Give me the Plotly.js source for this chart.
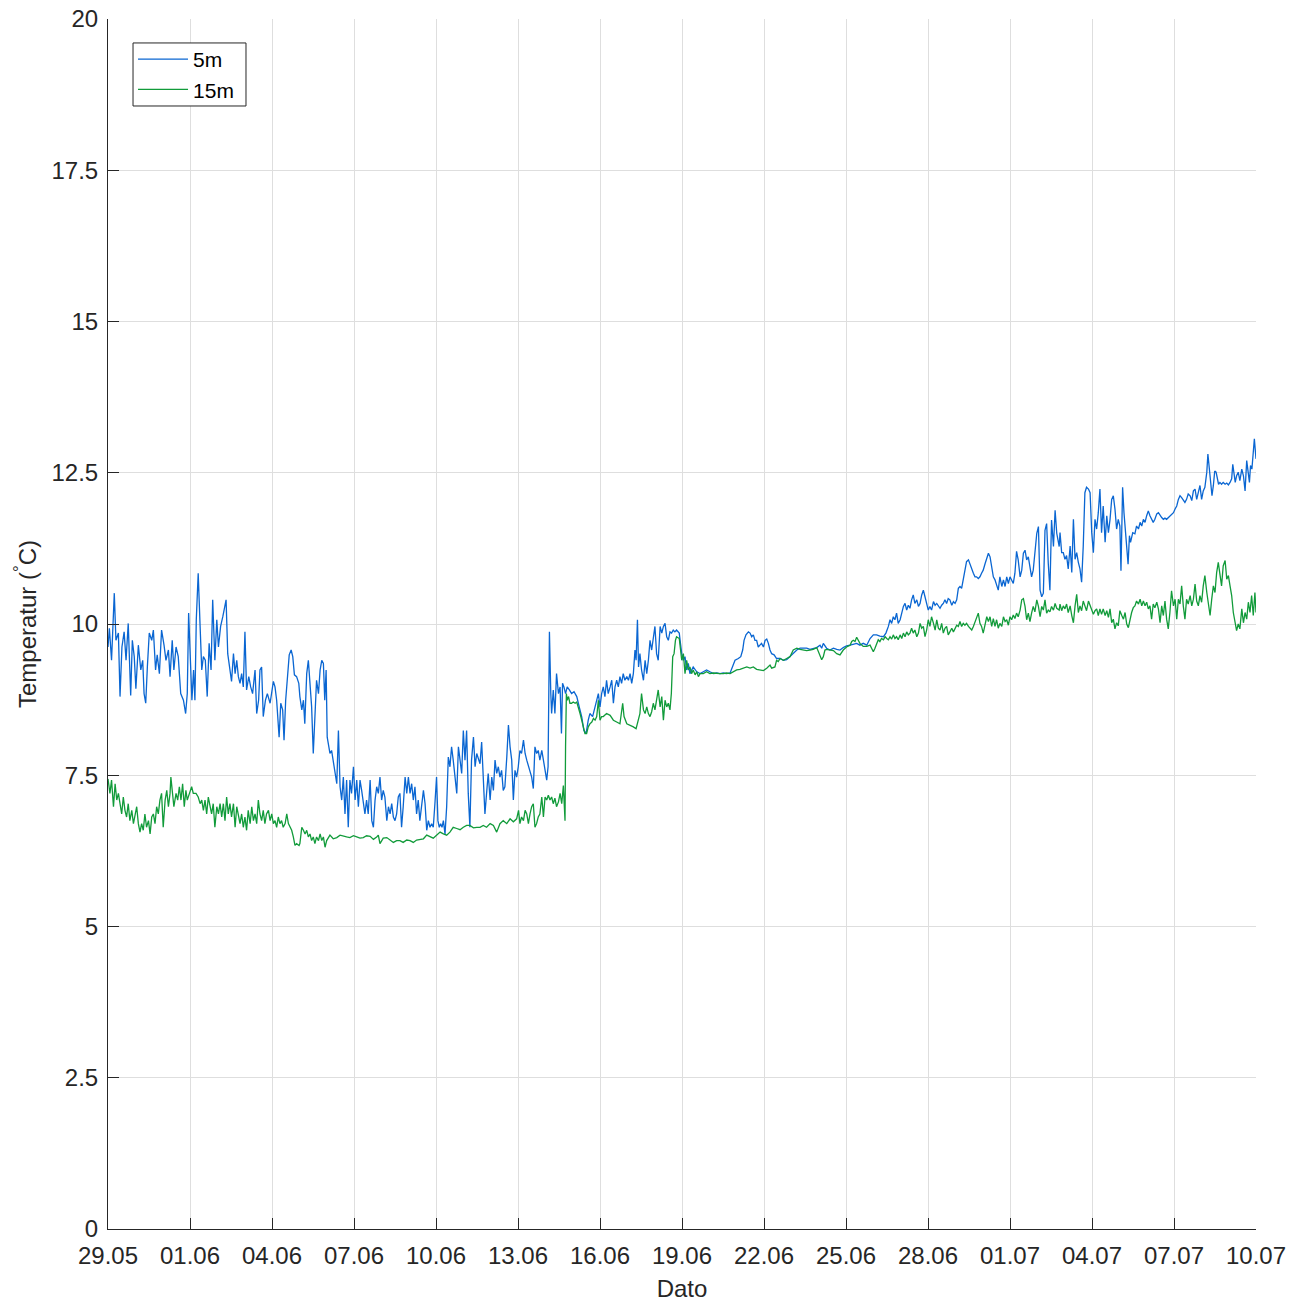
<!DOCTYPE html>
<html>
<head>
<meta charset="utf-8">
<script src="https://cdn.plot.ly/plotly-3.0.1.min.js"></script>
<style>html,body{margin:0;padding:0;background:#fff}#chart{width:1290px;height:1302px}</style>
</head>
<body>
<div id="chart"></div>
<script>
// Time in days since 29.05 00:00
const days5m = [
0.00,0.05,0.13,0.23,0.29,0.38,0.44,0.51,0.59,0.66,
0.74,0.83,0.89,0.96,1.02,1.11,1.20,1.27,1.32,1.38,
1.44,1.51,1.60,1.66,1.74,1.80,1.88,1.96,2.05,2.12,
2.21,2.27,2.35,2.41,2.49,2.57,2.66,2.76,2.84,2.90,
2.95,3.00,3.07,3.13,3.18,3.23,3.30,3.37,3.43,3.49,
3.56,3.63,3.70,3.77,3.83,3.91,3.98,4.04,4.12,4.20,
4.26,4.32,4.38,4.46,4.52,4.59,4.65,4.71,4.77,4.83,
4.89,4.95,5.01,5.07,5.15,5.22,5.29,5.38,5.44,5.51,
5.56,5.62,5.68,5.76,5.83,5.93,5.99,6.05,6.11,6.17,
6.26,6.32,6.39,6.44,6.50,6.56,6.63,6.70,6.76,6.82,
6.90,6.98,
7.02,7.09,7.15,7.20,7.27,7.33,7.39,7.45,7.51,7.57,
7.63,7.70,7.76,7.82,7.88,7.93,7.98,8.02,8.07,8.12,
8.18,8.24,8.30,8.37,8.43,8.49,8.55,8.61,8.67,8.73,
8.79,8.85,8.91,8.98,9.04,9.10,9.16,9.22,9.28,9.34,
9.40,9.46,9.52,9.59,9.65,9.71,9.77,9.83,9.89,9.95,
10.01,10.07,10.13,10.20,10.26,10.32,10.38,10.44,10.50,10.56,
10.62,10.68,10.74,10.80,10.87,10.93,10.99,11.05,11.11,11.17,
11.23,11.29,11.35,11.41,11.48,11.54,11.60,11.66,11.72,11.78,
11.84,11.90,11.96,12.02,12.07,12.12,12.17,12.22,12.27,12.33,
12.39,12.45,12.51,12.57,12.63,12.70,12.76,12.82,12.88,12.94,
13.00,13.06,13.12,13.18,13.24,13.30,13.37,13.43,13.49,13.55,
13.61,13.67,13.73,13.79,13.85,13.91,13.98,14.04,14.10,14.16,
14.22,14.28,14.34,14.40,14.46,14.52,14.59,14.65,14.71,14.77,
14.83,14.89,14.95,15.01,15.07,15.13,15.20,15.26,15.32,15.38,
15.44,15.50,15.56,15.62,15.68,15.74,15.80,15.87,15.93,15.99,
16.05,16.10,16.15,16.20,16.23,16.29,16.35,16.41,16.48,16.54,
16.59,16.63,16.68,16.74,16.80,16.88,16.96,17.05,17.15,17.24,
17.33,17.41,17.49,17.57,17.63,17.73,17.82,17.88,17.94,18.00,
18.06,18.12,18.18,18.24,18.30,18.37,18.43,18.49,18.55,18.61,
18.67,18.73,18.79,18.85,18.91,18.98,19.04,19.10,19.16,19.22,
19.28,19.32,19.37,19.41,19.46,19.52,19.59,19.65,19.71,19.77,
19.83,19.89,19.95,20.01,20.07,20.13,20.20,20.26,20.32,20.38,
20.44,20.50,20.56,20.62,20.68,20.74,20.80,20.90,
20.93,20.99,21.05,21.11,21.17,21.23,21.29,21.41,21.54,21.66,
21.78,21.90,22.02,22.15,22.27,22.39,22.51,22.63,22.76,22.85,
22.94,23.06,23.15,23.22,23.27,23.34,23.43,23.49,23.55,23.61,
23.67,23.73,23.79,23.85,23.91,23.98,24.04,24.10,24.16,24.22,
24.28,24.37,24.46,24.59,24.71,24.83,24.95,25.07,25.20,25.32,
25.44,25.56,25.68,25.80,25.93,26.05,26.11,26.17,26.29,26.41,
26.54,26.66,26.78,26.90,27.02,27.15,27.27,27.39,27.51,
27.63,27.76,27.88,28.00,28.12,28.24,28.37,28.46,28.55,28.61,
28.67,28.73,28.79,28.85,28.91,28.98,29.04,29.10,29.16,29.22,
29.28,29.34,29.40,29.46,29.52,29.59,29.65,29.71,29.77,29.83,
29.89,29.95,30.01,30.07,30.13,30.20,30.26,30.32,30.38,30.44,
30.50,30.56,30.62,30.68,30.74,30.80,30.87,30.93,30.99,31.05,
31.11,31.17,31.23,31.29,31.35,31.41,31.48,31.54,31.60,31.66,
31.72,31.78,31.84,31.90,31.96,32.02,32.09,32.15,32.21,32.27,
32.33,32.39,32.45,32.51,32.57,32.63,32.70,32.76,32.82,32.88,
32.94,33.00,33.06,33.12,33.18,33.24,33.30,33.37,33.43,33.49,
33.55,33.61,33.67,33.73,33.79,33.85,33.91,33.98,34.04,34.10,
34.16,34.22,34.28,34.34,34.40,34.46,34.52,34.59,34.65,34.71,
34.80,
34.83,34.89,34.95,35.01,35.07,35.13,35.20,35.26,35.32,35.38,
35.44,35.50,35.56,35.62,35.68,35.74,35.80,35.87,35.93,35.99,
36.05,36.11,36.17,36.23,36.29,36.35,36.41,36.48,36.54,36.60,
36.66,36.72,36.78,36.84,36.90,36.96,37.02,37.06,37.12,37.17,
37.22,37.27,37.32,37.37,37.41,37.49,37.57,37.63,37.70,37.76,
37.82,37.88,37.94,38.00,38.06,38.12,38.18,38.24,38.30,38.37,
38.43,38.49,38.55,38.61,38.67,38.73,38.79,38.85,38.91,38.98,
39.04,39.10,39.16,39.22,39.28,39.34,39.40,39.46,39.52,39.59,
39.65,39.71,39.77,39.83,39.89,39.95,40.01,40.07,40.13,40.20,
40.24,40.29,40.34,40.39,40.44,40.49,40.54,40.59,40.63,40.68,
40.74,40.80,40.87,40.93,40.99,41.05,41.11,41.15,41.20,41.24,
41.29,41.35,41.41,41.48,41.54,41.60,41.66,41.71,41.76,41.80,
41.85,41.90,41.94,42.00
];
const temp5m = [
9.62,9.93,9.40,10.51,9.73,9.85,8.80,9.62,9.87,9.40,
10.01,8.82,9.73,9.46,8.93,9.65,9.24,9.40,8.85,8.69,
9.29,9.85,9.73,9.90,9.24,9.49,9.18,9.90,9.65,9.40,
9.57,9.13,9.73,9.24,9.62,9.46,8.85,8.74,8.52,8.85,
10.18,9.46,8.74,9.24,8.74,10.07,10.84,9.96,9.24,9.46,
9.40,8.80,9.68,9.24,10.40,9.40,10.07,9.62,9.96,10.12,
10.29,10.40,9.51,9.24,9.05,9.51,9.18,9.40,9.13,9.02,
9.18,8.96,9.87,8.91,9.13,8.96,8.85,9.24,8.52,8.74,
9.24,9.29,8.47,8.74,8.85,8.69,8.85,9.05,8.96,8.74,
8.13,8.69,8.58,8.08,8.74,9.16,9.49,9.57,9.46,9.16,
9.13,9.02,
8.80,8.58,8.74,8.35,9.18,9.40,8.96,8.63,7.86,8.58,
9.07,8.85,9.24,9.40,9.35,8.74,9.24,8.13,8.02,7.86,
7.91,7.75,7.58,7.36,8.24,7.31,7.09,7.47,6.86,7.42,
6.64,7.42,7.20,7.64,7.09,7.42,6.98,7.42,7.25,7.03,
6.86,7.09,6.86,7.42,6.75,6.64,7.09,7.31,7.20,7.47,
7.09,7.25,7.14,6.75,6.98,6.86,7.03,6.81,6.75,6.86,
7.14,7.20,6.64,6.98,7.47,7.20,7.47,7.20,7.36,7.09,
7.31,6.86,7.09,6.75,6.98,7.25,7.03,6.59,6.75,6.64,
6.70,6.64,7.03,7.47,6.75,6.64,6.70,6.64,6.75,6.53,
6.98,7.80,7.64,7.97,7.75,7.42,7.20,7.97,7.75,7.53,
8.24,7.75,8.24,7.20,6.64,7.75,8.13,7.64,7.86,7.75,
7.69,8.05,7.31,6.86,7.20,7.53,7.09,7.47,7.25,7.75,
7.53,7.64,7.47,7.58,7.25,7.31,7.80,8.33,7.97,7.75,
7.09,7.58,7.47,7.64,7.91,7.86,8.08,7.86,7.75,7.64,
7.53,7.47,7.28,7.97,7.86,7.91,7.75,7.91,7.75,7.58,
7.42,7.64,9.87,8.85,8.52,8.91,8.52,9.18,8.85,8.96,
8.19,9.02,8.96,8.85,8.96,8.91,8.85,8.88,8.80,8.63,
8.47,8.24,8.19,8.41,8.52,8.47,8.63,8.74,8.85,8.63,
8.85,8.96,8.80,9.07,8.85,8.96,9.07,8.69,8.96,9.07,
8.96,9.13,9.02,9.18,9.07,9.13,9.07,9.18,9.02,9.18,
9.57,9.40,10.07,9.29,9.51,9.24,9.07,9.40,9.18,9.40,
9.73,9.57,9.79,9.96,9.51,9.40,9.96,9.85,9.96,10.01,
9.79,9.73,9.87,9.85,9.90,9.87,9.90,9.85,
9.73,9.51,9.40,9.46,9.24,9.35,9.18,9.29,9.21,9.18,
9.21,9.24,9.21,9.18,9.19,9.18,9.19,9.18,9.19,9.29,
9.40,9.43,9.46,9.57,9.73,9.82,9.87,9.85,9.79,9.82,
9.73,9.73,9.62,9.65,9.68,9.62,9.73,9.75,9.68,9.57,
9.51,9.49,9.43,9.43,9.40,9.41,9.46,9.51,9.57,9.60,
9.60,9.60,9.58,9.59,9.61,9.65,9.60,9.68,9.60,9.57,
9.60,9.58,9.57,9.61,9.64,9.65,9.67,9.68,9.65,
9.68,9.65,9.76,9.82,9.82,9.80,9.79,9.85,9.96,10.07,
10.01,10.12,10.07,10.18,10.01,10.07,10.18,10.29,10.34,10.23,
10.31,10.26,10.40,10.48,10.34,10.40,10.29,10.34,10.48,10.56,
10.45,10.34,10.23,10.29,10.23,10.37,10.31,10.34,10.29,10.26,
10.31,10.34,10.40,10.34,10.42,10.40,10.31,10.37,10.34,10.40,
10.59,10.62,10.59,10.73,10.84,11.03,11.06,10.98,10.92,10.84,
10.78,10.78,10.75,10.78,10.84,10.89,11.00,11.11,11.17,11.11,
10.95,10.78,10.73,10.62,10.56,10.78,10.62,10.73,10.62,10.78,
10.67,10.78,10.73,10.67,10.84,11.20,11.06,10.78,10.89,11.17,
11.22,11.06,11.11,10.95,10.78,10.89,11.17,11.50,11.61,10.56,
10.45,10.51,11.55,11.66,11.00,10.56,11.72,11.28,11.88,11.50,
11.28,
11.51,11.18,11.18,11.07,11.13,10.91,11.29,10.85,11.73,11.07,
11.18,11.02,10.91,10.69,11.29,12.17,12.26,12.23,12.17,11.51,
11.18,11.73,11.57,11.84,12.23,11.51,11.95,11.35,11.79,11.51,
11.73,12.06,12.12,11.90,11.57,11.73,11.62,10.88,12.26,11.84,
11.57,11.24,10.99,11.46,11.35,11.51,11.49,11.62,11.57,11.68,
11.62,11.73,11.68,11.79,11.87,11.79,11.73,11.68,11.73,11.82,
11.84,11.79,11.76,11.73,11.75,11.73,11.76,11.79,11.82,11.84,
11.90,11.95,12.06,12.12,12.09,12.04,12.01,12.06,12.15,12.12,
12.04,12.20,12.23,12.06,12.17,12.29,12.06,12.20,12.26,12.51,
12.81,12.56,12.29,12.12,12.29,12.53,12.51,12.37,12.31,12.34,
12.31,12.34,12.31,12.33,12.30,12.34,12.40,12.64,12.45,12.34,
12.45,12.51,12.37,12.56,12.45,12.20,12.70,12.51,12.34,12.62,
12.56,12.84,13.06,12.73
];
const days15m = [
0.00,0.07,0.13,0.20,0.26,0.32,0.38,0.44,0.50,0.56,
0.62,0.68,0.74,0.80,0.87,0.93,0.99,1.05,1.11,1.17,
1.23,1.29,1.35,1.41,1.48,1.54,1.60,1.66,1.72,1.78,
1.84,1.90,1.96,2.02,2.09,2.15,2.21,2.27,2.30,2.37,
2.41,2.49,2.55,2.61,2.67,2.73,2.79,2.85,2.90,2.98,
3.06,3.12,3.22,3.30,3.37,3.43,3.49,3.55,3.61,3.67,
3.73,3.79,3.85,3.91,3.98,4.04,4.10,4.16,4.22,4.28,
4.34,4.40,4.46,4.52,4.59,4.65,4.71,4.77,4.83,4.89,
4.95,5.01,5.07,5.13,5.20,5.26,5.32,5.38,5.44,5.50,
5.56,5.62,5.68,5.74,5.80,5.87,5.93,5.99,6.05,6.11,
6.17,6.23,6.29,6.35,6.41,6.48,6.54,6.60,6.66,6.72,
6.78,6.84,6.90,6.99,
7.02,7.09,7.15,7.21,7.27,7.33,7.39,7.45,7.51,7.57,
7.63,7.70,7.76,7.82,7.88,7.94,8.00,8.12,8.24,8.37,
8.49,8.61,8.73,8.85,8.98,9.10,9.22,9.34,9.46,9.59,
9.71,9.83,9.89,9.95,10.07,10.20,10.32,10.44,10.56,10.68,
10.80,10.93,11.05,11.17,11.29,11.41,11.54,11.66,11.78,11.90,
12.02,12.15,12.27,12.39,12.51,12.63,12.76,12.88,13.00,13.12,
13.24,13.37,13.49,
13.61,13.73,13.85,13.98,14.10,14.22,14.28,14.34,14.46,14.59,
14.71,14.83,14.95,15.02,15.07,15.13,15.20,15.26,15.32,15.38,
15.44,15.50,15.56,15.62,15.68,15.74,15.80,15.87,15.93,15.99,
16.05,16.11,16.17,16.23,16.29,16.35,16.41,16.48,16.54,16.60,
16.66,16.72,16.74,16.77,16.80,16.85,16.90,16.96,17.02,17.09,
17.15,17.21,17.27,17.33,17.39,17.45,17.51,17.57,17.63,17.70,
17.76,17.82,17.88,17.94,18.00,18.06,18.12,18.24,18.37,18.49,
18.61,18.73,18.83,18.88,18.98,19.10,19.22,19.32,19.40,19.46,
19.52,19.59,19.65,19.71,19.77,19.83,19.89,19.95,20.01,20.07,
20.13,20.20,20.26,20.32,20.38,20.44,20.50,20.56,20.61,20.66,
20.71,20.76,20.80,20.90,
20.93,20.99,21.05,21.11,21.17,21.23,21.29,21.35,21.41,21.48,
21.54,21.60,21.66,21.78,21.90,22.02,22.15,22.27,22.39,22.51,
22.63,22.76,22.88,23.00,23.12,23.24,23.37,23.49,23.61,23.73,
23.85,23.98,24.10,24.22,24.28,24.40,24.46,24.52,24.59,24.71,
24.83,24.95,25.07,25.20,25.32,25.44,25.56,25.68,25.80,25.93,
26.05,26.11,26.17,26.23,26.29,26.41,26.54,26.66,26.78,26.90,
27.02,27.15,27.21,27.27,27.33,27.39,27.45,27.51,
27.63,27.76,27.88,28.00,28.06,28.12,28.18,28.24,28.30,28.37,
28.43,28.49,28.55,28.61,28.67,28.73,28.79,28.85,28.91,28.98,
29.04,29.10,29.16,29.22,29.28,29.34,29.40,29.46,29.52,29.59,
29.65,29.71,29.77,29.83,29.89,29.95,30.01,30.07,30.13,30.20,
30.26,30.32,30.38,30.44,30.50,30.56,30.62,30.68,30.74,30.80,
30.87,30.93,30.99,31.05,31.11,31.17,31.23,31.29,31.35,31.41,
31.48,31.54,31.60,31.66,31.72,31.78,31.84,31.90,31.96,32.02,
32.09,32.15,32.21,32.27,32.33,32.39,32.45,32.51,32.57,32.63,
32.70,32.76,32.82,32.88,32.94,33.00,33.06,33.12,33.18,33.24,
33.30,33.37,33.43,33.49,33.55,33.61,33.67,33.73,33.79,33.85,
33.91,33.98,34.04,34.10,34.16,34.22,34.28,34.34,34.40,34.46,
34.52,34.59,34.65,34.71,34.80,
34.83,34.89,34.95,35.01,35.07,35.13,35.20,35.26,35.32,35.38,
35.44,35.50,35.56,35.62,35.68,35.74,35.80,35.87,35.93,35.99,
36.05,36.11,36.17,36.23,36.29,36.35,36.41,36.48,36.54,36.60,
36.66,36.72,36.78,36.84,36.90,36.96,37.02,37.09,37.15,37.21,
37.27,37.33,37.39,37.45,37.51,37.57,37.63,37.70,37.76,37.82,
37.88,37.94,38.00,38.06,38.12,38.18,38.24,38.30,38.37,38.43,
38.49,38.55,38.61,38.67,38.73,38.79,38.85,38.91,38.98,39.04,
39.10,39.16,39.22,39.28,39.34,39.40,39.46,39.52,39.59,39.65,
39.71,39.77,39.83,39.89,39.95,40.01,40.07,40.13,40.20,40.26,
40.32,40.38,40.44,40.50,40.56,40.62,40.68,40.74,40.80,40.87,
40.93,40.99,41.05,41.11,41.17,41.23,41.29,41.35,41.41,41.48,
41.54,41.60,41.66,41.72,41.78,41.84,41.90,41.96,42.00
];
const temp15m = [
7.44,7.20,7.42,6.98,7.36,7.09,7.20,6.98,6.86,7.14,
6.92,6.81,7.03,6.75,6.92,6.70,6.86,6.98,6.70,6.56,
6.70,6.59,6.86,6.64,6.75,6.53,6.81,6.86,6.70,6.98,
6.86,7.09,7.20,6.64,7.09,7.25,6.98,7.20,7.47,7.20,
6.98,7.20,7.09,7.31,7.09,7.36,6.98,7.25,7.09,7.20,
7.31,7.20,7.20,7.14,7.03,7.09,6.92,7.09,6.86,7.14,
6.98,6.86,7.03,6.64,6.98,6.86,7.03,6.81,7.03,6.75,
7.14,6.86,7.03,6.81,7.03,6.64,6.98,6.86,6.70,6.86,
6.64,6.81,6.59,6.92,6.70,6.98,6.75,6.86,6.70,7.09,
6.86,6.75,6.92,6.70,6.86,6.92,6.75,6.86,6.70,6.75,
6.64,6.81,6.70,6.75,6.64,6.70,6.86,6.70,6.64,6.59,
6.48,6.34,6.37,6.34,
6.37,6.64,6.59,6.53,6.59,6.48,6.53,6.42,6.48,6.37,
6.48,6.42,6.53,6.42,6.48,6.31,6.42,6.51,6.45,6.47,
6.51,6.49,6.48,6.47,6.50,6.48,6.46,6.47,6.50,6.49,
6.44,6.48,6.51,6.37,6.46,6.47,6.43,6.39,6.42,6.42,
6.39,6.43,6.42,6.39,6.43,6.44,6.45,6.51,6.48,6.46,
6.51,6.56,6.53,6.51,6.56,6.64,6.62,6.60,6.64,6.67,
6.67,6.63,6.64,
6.64,6.67,6.64,6.70,6.67,6.56,6.64,6.70,6.75,6.70,
6.78,6.73,6.78,6.92,6.70,6.81,6.75,6.92,6.86,6.70,
6.86,6.98,7.03,6.64,6.70,6.81,6.86,7.14,6.81,7.14,
7.09,7.17,7.09,7.14,7.03,7.12,6.98,7.06,7.20,7.03,
7.33,6.75,7.97,8.85,8.74,8.80,8.69,8.69,8.71,8.69,
8.71,8.63,8.52,8.41,8.30,8.19,8.19,8.30,8.35,8.38,
8.44,8.41,8.47,8.74,8.41,8.47,8.47,8.52,8.49,8.41,
8.38,8.35,8.69,8.47,8.35,8.33,8.30,8.27,8.41,8.52,
8.85,8.58,8.52,8.63,8.52,8.47,8.55,8.69,8.58,8.74,
8.91,8.63,8.80,8.41,8.74,8.63,8.69,8.58,8.85,9.46,
9.51,9.73,9.79,9.76,
9.62,9.40,9.51,9.18,9.40,9.24,9.29,9.18,9.24,9.16,
9.21,9.13,9.18,9.18,9.21,9.18,9.19,9.18,9.18,9.18,
9.19,9.18,9.21,9.24,9.25,9.27,9.29,9.27,9.29,9.25,
9.24,9.23,9.27,9.32,9.27,9.29,9.40,9.38,9.43,9.40,
9.43,9.46,9.57,9.60,9.58,9.57,9.56,9.57,9.58,9.61,
9.46,9.41,9.46,9.57,9.58,9.57,9.56,9.51,9.49,9.57,
9.62,9.65,9.71,9.73,9.71,9.78,9.73,9.68,
9.63,9.63,9.65,9.54,9.60,9.68,9.74,9.71,9.76,9.74,
9.79,9.76,9.74,9.79,9.75,9.82,9.76,9.79,9.74,9.82,
9.76,9.85,9.79,9.87,9.82,9.85,9.93,9.85,9.90,9.79,
9.85,10.01,9.93,9.96,9.79,9.90,10.07,9.96,10.12,10.01,
9.90,10.07,9.93,9.90,10.01,9.85,9.93,9.96,9.82,9.87,
9.93,9.87,9.93,9.98,9.96,10.04,9.96,10.01,9.98,10.01,
9.96,9.93,9.90,9.96,10.04,10.09,10.18,10.01,9.96,9.85,
10.01,10.12,10.04,10.12,9.96,10.09,9.96,10.07,9.93,10.01,
9.96,10.12,10.04,10.07,9.98,10.12,10.07,10.15,10.09,10.18,
10.12,10.23,10.40,10.42,10.29,10.07,10.18,10.04,10.18,10.29,
10.20,10.40,10.29,10.12,10.29,10.23,10.40,10.18,10.23,10.20,
10.29,10.23,10.34,10.26,10.23,
10.33,10.22,10.30,10.25,10.33,10.19,10.30,10.14,10.02,10.30,
10.49,10.19,10.30,10.22,10.38,10.30,10.22,10.38,10.30,10.25,
10.16,10.22,10.25,10.14,10.25,10.16,10.25,10.14,10.22,10.11,
10.25,10.02,10.08,9.92,10.02,9.97,10.22,10.14,10.08,10.19,
10.00,9.94,10.08,10.19,10.27,10.30,10.38,10.33,10.41,10.30,
10.38,10.30,10.36,10.25,10.30,10.08,10.33,10.27,10.36,10.25,
10.02,10.30,10.14,10.38,10.08,9.92,10.19,10.55,10.30,10.41,
10.08,10.41,10.33,10.63,10.30,10.08,10.41,10.33,10.47,10.30,
10.41,10.66,10.38,10.30,10.47,10.36,10.63,10.80,10.52,10.30,
10.14,10.41,10.63,10.52,10.85,11.02,10.85,10.63,10.96,11.05,
10.74,10.80,10.63,10.47,10.19,10.05,9.89,10.00,9.92,10.25,
10.02,10.19,10.08,10.36,10.19,10.47,10.14,10.52,10.19
];
const seriesNames = ['5m', '15m'];
const xTickDays = [0,3,6,9,12,15,18,21,24,27,30,33,36,39,42];
const xTickLabels = ['29.05','01.06','04.06','07.06','10.06','13.06','16.06','19.06','22.06','25.06','28.06','01.07','04.07','07.07','10.07'];
const yTickVals = [0,2.5,5,7.5,10,12.5,15,17.5,20];
const yTickLabels = ['0','2.5','5','7.5','10','12.5','15','17.5','20'];

const baseMs = Date.UTC(2023, 4, 29, 0, 0, 0);
function toDate(d) {
  return new Date(baseMs + d * 86400000).toISOString().slice(0, 19).replace('T', ' ');
}

const FONT = 'Liberation Sans, Arial, Helvetica, sans-serif';
const TXT = '#262626';

const traces = [
  {x: days5m.map(toDate), y: temp5m, type: 'scatter', mode: 'lines', name: seriesNames[0],
   line: {color: '#0a66d2', width: 1.3}},
  {x: days15m.map(toDate), y: temp15m, type: 'scatter', mode: 'lines', name: seriesNames[1],
   line: {color: '#119b3a', width: 1.3}}
];

const layout = {
  width: 1290, height: 1302,
  margin: {l: 108, r: 34, t: 19, b: 73},
  paper_bgcolor: '#ffffff', plot_bgcolor: '#ffffff',
  font: {family: FONT, color: TXT, size: 24},
  showlegend: true,
  legend: {
    x: 0.0218, y: 0.9835, xanchor: 'left', yanchor: 'top',
    bgcolor: 'rgba(0,0,0,0)', borderwidth: 0,
    font: {family: FONT, size: 21, color: '#000000'},
    itemwidth: 50, tracegroupgap: 0
  },
  shapes: [{
    type: 'rect', xref: 'paper', yref: 'paper', layer: 'above',
    x0: 0.0218, x1: 0.1202, y0: 0.9281, y1: 0.9802,
    line: {color: TXT, width: 1}, fillcolor: '#ffffff'
  }],
  xaxis: {
    type: 'date',
    range: [toDate(0), toDate(42)],
    tickvals: xTickDays.map(toDate), ticktext: xTickLabels,
    tickfont: {family: FONT, size: 24, color: TXT},
    ticks: 'inside', ticklen: 11, tickcolor: TXT, tickwidth: 1,
    ticklabelstandoff: 5,
    showline: true, linecolor: TXT, linewidth: 1, mirror: false,
    showgrid: true, gridcolor: '#dedede', gridwidth: 1,
    zeroline: false,
    title: {text: 'Dato', font: {family: FONT, size: 24, color: TXT}, standoff: 16}
  },
  yaxis: {
    range: [0, 20],
    tickvals: yTickVals, ticktext: yTickLabels,
    tickfont: {family: FONT, size: 24, color: TXT},
    ticks: 'inside', ticklen: 11, tickcolor: TXT, tickwidth: 1,
    ticklabelstandoff: 4,
    showline: true, linecolor: TXT, linewidth: 1, mirror: false,
    showgrid: true, gridcolor: '#dedede', gridwidth: 1,
    zeroline: false,
    title: {text: 'Temperatur (<sup>°</sup>C)', font: {family: FONT, size: 24, color: TXT}, standoff: 8}
  }
};

Plotly.newPlot('chart', traces, layout, {displayModeBar: false, staticPlot: true});
</script>
</body>
</html>
